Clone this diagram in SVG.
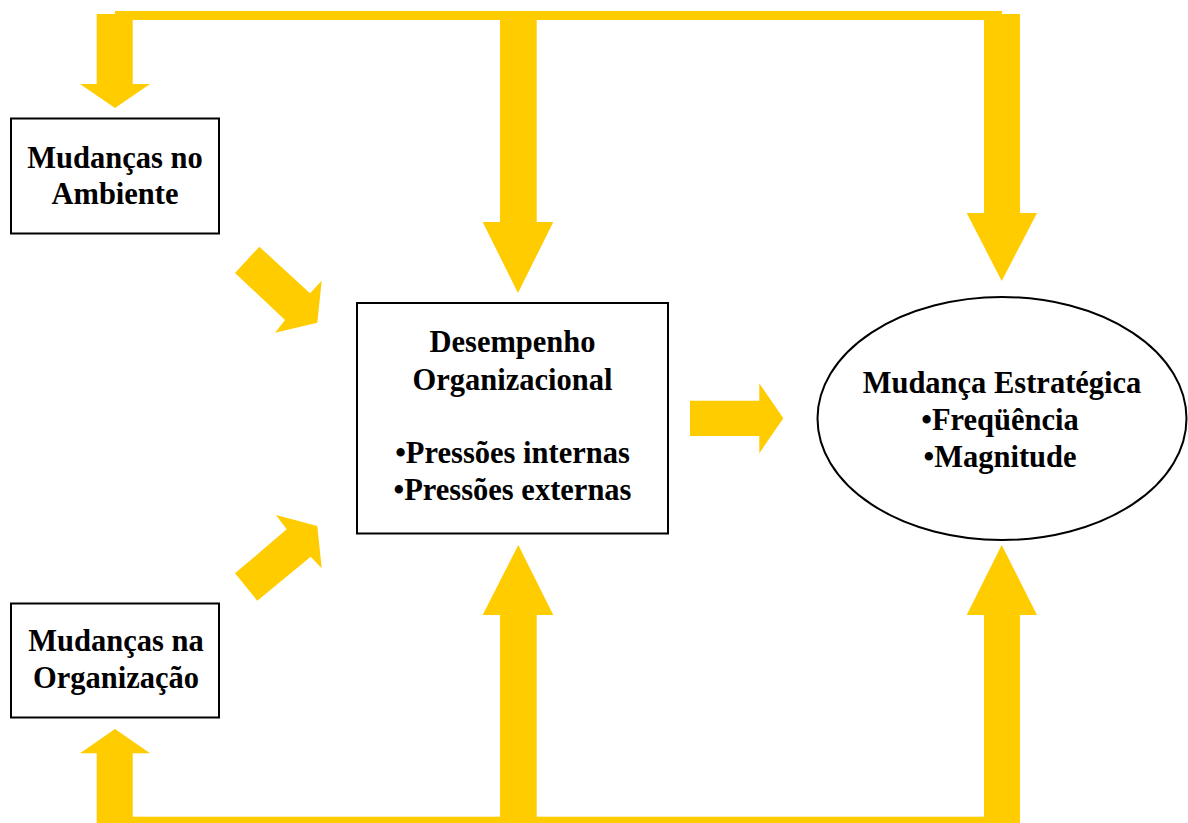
<svg xmlns="http://www.w3.org/2000/svg" width="1188" height="823" viewBox="0 0 1188 823">
  <style>
    .box { fill: #ffffff; stroke: #000000; stroke-width: 2; }
    .lbl { font-family: "Liberation Serif", "Times New Roman", serif; font-weight: bold; font-size: 30.5px; fill: #000000; text-anchor: middle; }
    .flow { fill: #FFCC00; stroke: none; }
  </style>
  <rect width="1188" height="823" fill="#ffffff"/>

  <!-- block arrows and feedback bars -->
  <g id="connectors">
    <!-- top feedback bar -->
    <rect class="flow" x="115" y="11" width="887" height="9"/>
    <!-- down to "Mudanças no Ambiente" -->
    <polygon class="flow" points="96.7,14 132.7,14 132.7,84 150,84 115,108 80,84 96.7,84"/>
    <!-- down to central box -->
    <polygon class="flow" points="500,20 536.7,20 536.7,222 553.3,222 518,293 482.7,222 500,222"/>
    <!-- down to ellipse -->
    <polygon class="flow" points="984,14 1020,14 1020,213 1037,213 1001.7,281 966.7,213 984,213"/>
    <!-- diagonal from upper-left box -->
    <polygon class="flow" points="235,273 259.3,246.7 310,293.3 321.7,280.7 317.3,322.7 275,332.7 285,320"/>
    <!-- diagonal from lower-left box -->
    <polygon class="flow" points="257.3,600.7 235,573.3 286.7,529.3 276,515 317.3,526 321.7,568.3 310.7,556.7"/>
    <!-- central box to ellipse -->
    <polygon class="flow" points="690,400.7 759.3,400.7 759.3,383.3 783.3,418.3 759.3,453.3 759.3,436 690,436"/>
    <!-- bottom feedback bar -->
    <rect class="flow" x="132" y="816.7" width="853" height="6.3"/>
    <!-- up to "Mudanças na Organização" -->
    <polygon class="flow" points="96.7,823 132.7,823 132.7,753.3 150,753.3 115,729 80,753.3 96.7,753.3"/>
    <!-- up to central box -->
    <polygon class="flow" points="500,818 536.7,818 536.7,615 553.3,615 518.3,545 482.7,615 500,615"/>
    <!-- up to ellipse -->
    <polygon class="flow" points="984,823 1020,823 1020,615 1037,615 1001.7,545 966.7,615 984,615"/>
  </g>

  <g id="node-ambiente">
    <rect class="box" x="11" y="118.5" width="208" height="115"/>
    <text class="lbl" x="115" y="168">Mudanças no</text>
    <text class="lbl" x="115" y="204">Ambiente</text>
  </g>

  <g id="node-organizacao">
    <rect class="box" x="11" y="603.5" width="208" height="114"/>
    <text class="lbl" x="116" y="651">Mudanças na</text>
    <text class="lbl" x="116" y="688">Organização</text>
  </g>

  <g id="node-desempenho">
    <rect class="box" x="357" y="303" width="311" height="230.5"/>
    <text class="lbl" x="512.5" y="352">Desempenho</text>
    <text class="lbl" x="512.5" y="390">Organizacional</text>
    <text class="lbl" x="512.5" y="463">•Pressões internas</text>
    <text class="lbl" x="512.5" y="500">•Pressões externas</text>
  </g>

  <g id="node-mudanca-estrategica">
    <ellipse class="box" cx="1002" cy="418.5" rx="184.5" ry="121.5"/>
    <text class="lbl" x="1002" y="393">Mudança Estratégica</text>
    <text class="lbl" x="1000" y="430">•Freqüência</text>
    <text class="lbl" x="1000" y="467">•Magnitude</text>
  </g>
</svg>
